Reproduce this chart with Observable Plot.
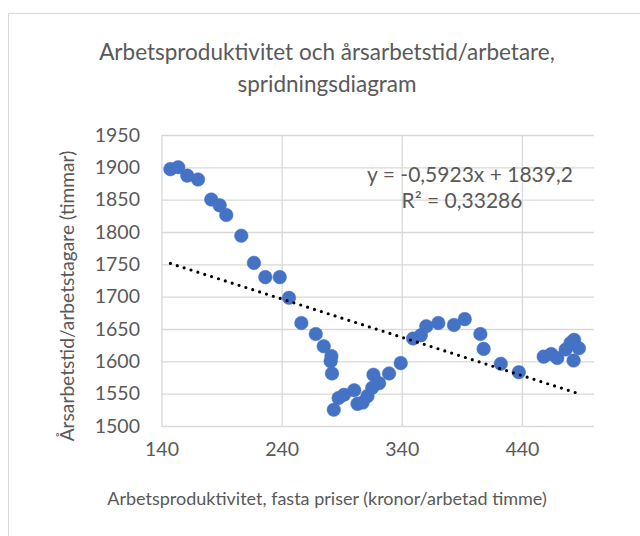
<!DOCTYPE html>
<html>
<head>
<meta charset="utf-8">
<script src="https://cdn.jsdelivr.net/npm/d3@7"></script>
<script src="https://cdn.jsdelivr.net/npm/@observablehq/plot@0.6"></script>
<style>
  html, body { margin: 0; padding: 0; background: #fff; overflow: hidden; }
  #wrap { position: relative; width: 640px; height: 536px; font-family: Lato, "Open Sans", sans-serif; color: #595959; }
  #frame { position: absolute; left: 8px; top: 13px; width: 660px; height: 540px; border: 1px solid #d9d9d9; box-sizing: border-box; }
  #title { position: absolute; left: 0; width: 654px; top: 36px; text-align: center; font-size: 22.5px; line-height: 32px; }
  .eq { position: absolute; width: 240px; text-align: center; font-size: 21px; line-height: 26px; white-space: nowrap; }
  #eq1 { left: 350px; top: 161px; }
  #eq2 { left: 342px; top: 187px; }
  #xlabel { position: absolute; left: 0; width: 654px; top: 486px; text-align: center; font-size: 18px; line-height: 24px; }
  #ylabel { position: absolute; left: 67px; top: 296px; width: 400px; margin-left: -200px; margin-top: -12px; text-align: center; font-size: 19.2px; line-height: 24px; transform: rotate(-90deg); white-space: nowrap; }
  #chart { position: absolute; left: 0; top: 0; }
</style>
</head>
<body>
<div id="wrap">
  <div id="frame"></div>
  <div id="chart"></div>
  <div id="title">Arbetsproduktivitet och årsarbetstid/arbetare,<br>spridningsdiagram</div>
  <div class="eq" id="eq1">y = -0,5923x + 1839,2</div>
  <div class="eq" id="eq2">R² = 0,33286</div>
  <div id="xlabel">Arbetsproduktivitet, fasta priser (kronor/arbetad timme)</div>
  <div id="ylabel">Årsarbetstid/arbetstagare (timmar)</div>
</div>
<script>
// Arbetsproduktivitet (kronor/arbetad timme)
const productivity = [147,153.5,161,170,181,188,193.5,206,216.5,226,238,245.7,256,268,274.6,281,280.4,281.5,283,287,291.5,300,302.7,307,311,315,316,320.7,329,338.7,349,355.4,360,370,383,392,405,407.7,422,437,457.7,464,469,476,483,487,482.6,480];
// Årsarbetstid/arbetstagare (timmar)
const hours = [1898,1901,1888,1882,1851,1842,1827,1795,1753,1731,1731,1699,1660,1643,1624,1609,1601,1582,1526,1544,1549,1556,1535,1537,1547,1560,1580,1567,1582,1598,1636,1641,1655,1660,1657,1666,1643,1620,1597,1584,1608,1612,1606,1619,1634,1621,1602,1629];
const xTicks = [140,240,340,440];
const yTicks = [1500,1550,1600,1650,1700,1750,1800,1850,1900,1950];
const slope = -0.5923, intercept = 1839.2;

const points = productivity.map((x, i) => ({x, y: hours[i]}));
const [xmin, xmax] = d3.extent(productivity);
const trend = [xmin, xmax].map(x => ({x, y: slope * x + intercept}));

const chart = Plot.plot({
  width: 640,
  height: 536,
  marginLeft: 161.5,
  marginRight: 46,
  marginTop: 135,
  marginBottom: 110,
  style: {fontFamily: "Lato, 'Open Sans', sans-serif", color: "#595959", background: "transparent"},
  x: {domain: [140, 500], ticks: xTicks, label: null},
  y: {domain: [1500, 1950], ticks: yTicks, label: null},
  marks: [
    Plot.gridX(xTicks, {stroke: "#d9d9d9", strokeOpacity: 1, strokeWidth: 1.3}),
    Plot.gridY(yTicks, {stroke: "#d9d9d9", strokeOpacity: 1, strokeWidth: 1.3}),
    Plot.axisX({ticks: xTicks, tickSize: 0, tickPadding: 16, fontSize: 19.5, fill: "#595959", tickFormat: d => String(d), label: null}),
    Plot.axisY({ticks: yTicks, tickSize: 0, tickPadding: 22, fontSize: 19.5, fill: "#595959", tickFormat: d => String(d), label: null}),
    Plot.dot(points, {x: "x", y: "y", r: 6.8, fill: "#4472C4", stroke: "#4472C4", strokeWidth: 0.5}),
    Plot.line(trend, {x: "x", y: "y", stroke: "#000", strokeWidth: 3.2, strokeDasharray: "0 7.2", strokeLinecap: "round"})
  ]
});
document.getElementById("chart").appendChild(chart);
</script>
</body>
</html>
